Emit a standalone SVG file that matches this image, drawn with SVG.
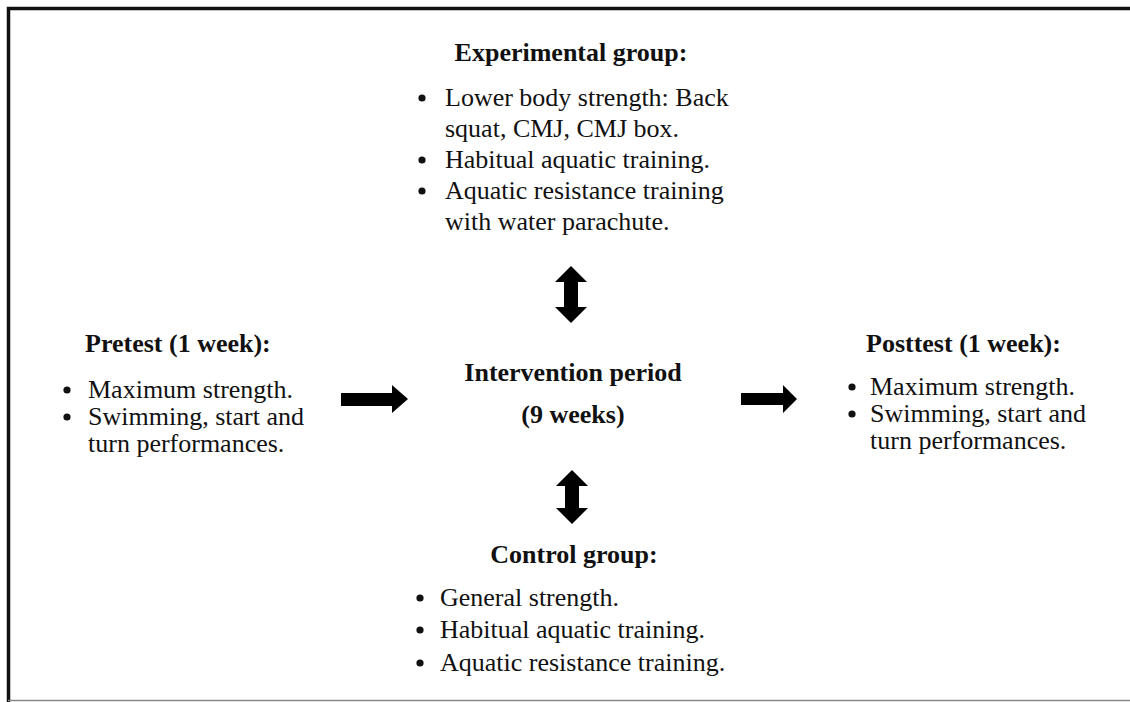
<svg xmlns="http://www.w3.org/2000/svg" width="1130" height="702" viewBox="0 0 1130 702">
<style>
text{font-family:"Liberation Serif","Times New Roman",serif;fill:#111;font-size:26px}
.t{font-weight:bold}
.c{text-anchor:middle}
.b{fill:#111}
.arr{fill:#000}
</style>
<rect width="1130" height="702" fill="#fff"/>
<g id="frame">
<path d="M8.5 702 V8.5 H1130" fill="none" stroke="#111" stroke-width="3.5"/>
<line x1="8" y1="700.5" x2="1130" y2="700.5" stroke="#888" stroke-width="1.5"/>
</g>
<g id="experimental">
<text class="t c" x="571" y="61">Experimental group:</text>
<circle class="b" cx="422" cy="98" r="3.6"/><text x="445" y="106">Lower body strength: Back</text>
<text x="445" y="137">squat, CMJ, CMJ box.</text>
<circle class="b" cx="422" cy="160" r="3.6"/><text x="445" y="168">Habitual aquatic training.</text>
<circle class="b" cx="422" cy="191" r="3.6"/><text x="445" y="199">Aquatic resistance training</text>
<text x="445" y="230">with water parachute.</text>
</g>
<g id="pretest">
<text class="t" x="85" y="352">Pretest (1 week):</text>
<circle class="b" cx="67" cy="390" r="3.6"/><text x="88" y="398">Maximum strength.</text>
<circle class="b" cx="67" cy="417" r="3.6"/><text x="88" y="425">Swimming, start and</text>
<text x="88" y="452">turn performances.</text>
</g>
<g id="intervention">
<text class="t c" x="573" y="381">Intervention period</text>
<text class="t c" x="573" y="423">(9 weeks)</text>
</g>
<g id="posttest">
<text class="t" x="866" y="352">Posttest (1 week):</text>
<circle class="b" cx="852" cy="387" r="3.6"/><text x="870" y="395">Maximum strength.</text>
<circle class="b" cx="852" cy="414" r="3.6"/><text x="870" y="422">Swimming, start and</text>
<text x="870" y="449">turn performances.</text>
</g>
<g id="control">
<text class="t c" x="574" y="563">Control group:</text>
<circle class="b" cx="420" cy="598" r="3.6"/><text x="440" y="606">General strength.</text>
<circle class="b" cx="420" cy="630" r="3.6"/><text x="440" y="638">Habitual aquatic training.</text>
<circle class="b" cx="420" cy="663" r="3.6"/><text x="440" y="671">Aquatic resistance training.</text>
</g>
<g id="connectors" class="arr">
<polygon points="341,393 392,393 392,385 408,399 392,413 392,406 341,406"/>
<polygon points="741,393 783,393 783,385 797,399 783,413 783,405 741,405"/>
<polygon points="571,266 587,282 578,282 578,307 587,307 571,323 555,307 564,307 564,282 555,282"/>
<polygon points="572,470 588,486 579,486 579,508 588,508 572,524 556,508 565,508 565,486 556,486"/>
</g>
</svg>
